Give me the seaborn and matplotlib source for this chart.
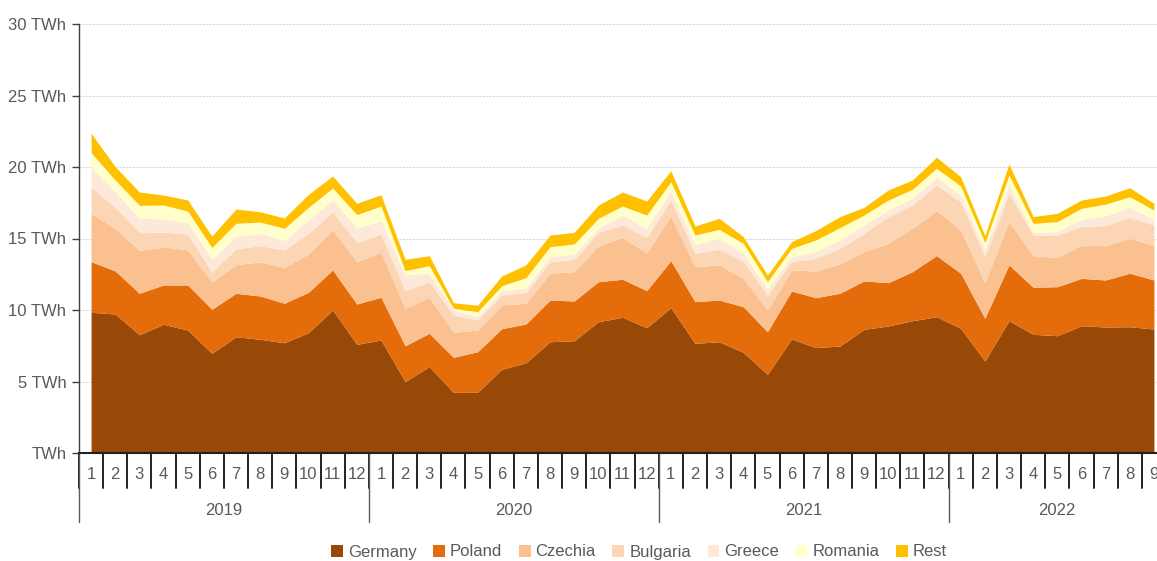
import numpy as np
import matplotlib
matplotlib.use('Agg')
import matplotlib.pyplot as plt
import matplotlib.transforms as mtransforms
from matplotlib.patches import Patch
import seaborn as sns

# monthly values, Jan 2019 - Sep 2022 (TWh)
years = ['2019', '2020', '2021', '2022']
months = [str(m) for m in range(1, 13)] * 3 + [str(m) for m in range(1, 10)]

germany = [9.84, 9.72, 8.27, 9.00, 8.60, 6.97, 8.13, 7.95, 7.71, 8.41, 10.00, 7.60,
           7.90, 4.99, 6.04, 4.24, 4.24, 5.85, 6.31, 7.78, 7.85, 9.18, 9.49, 8.76,
           10.16, 7.67, 7.78, 7.04, 5.50, 7.97, 7.37, 7.48, 8.65, 8.88, 9.25, 9.53,
           8.72, 6.43, 9.25, 8.30, 8.20, 8.90, 8.81, 8.83, 8.67]
poland = [3.54, 3.01, 2.90, 2.75, 3.15, 3.08, 3.04, 3.03, 2.76, 2.83, 2.80, 2.82,
          2.99, 2.51, 2.33, 2.45, 2.84, 2.84, 2.71, 2.92, 2.78, 2.80, 2.66, 2.59,
          3.29, 2.91, 2.92, 3.19, 2.98, 3.36, 3.49, 3.69, 3.38, 3.03, 3.43, 4.27,
          3.85, 2.99, 3.90, 3.29, 3.43, 3.31, 3.29, 3.74, 3.43]
czechia = [3.38, 2.98, 2.98, 2.66, 2.45, 1.91, 2.00, 2.38, 2.51, 2.68, 2.80, 2.94,
           3.17, 2.62, 2.52, 1.75, 1.52, 1.66, 1.45, 1.87, 2.05, 2.50, 2.91, 2.66,
           3.12, 2.45, 2.45, 1.98, 1.52, 1.47, 1.87, 2.05, 2.05, 2.75, 3.03, 3.14,
           3.03, 2.49, 3.03, 2.21, 2.03, 2.29, 2.40, 2.44, 2.40]
bulgaria = [1.82, 1.47, 1.26, 1.04, 1.11, 0.70, 1.10, 1.14, 1.22, 1.44, 1.27, 1.35,
            1.25, 1.23, 1.09, 1.21, 0.70, 0.70, 0.74, 0.81, 0.86, 0.95, 0.88, 1.07,
            1.12, 0.93, 1.09, 1.22, 1.05, 0.58, 0.88, 1.09, 1.28, 1.87, 1.63, 1.80,
            1.97, 1.82, 1.98, 1.44, 1.58, 1.33, 1.40, 1.47, 1.44]
greece = [1.37, 1.09, 1.00, 0.93, 0.79, 0.91, 0.86, 0.86, 0.65, 0.93, 0.82, 1.02,
          0.93, 1.10, 0.59, 0.35, 0.23, 0.30, 0.31, 0.35, 0.38, 0.28, 0.70, 0.63,
          0.58, 0.59, 0.77, 0.58, 0.40, 0.35, 0.47, 0.59, 0.58, 0.46, 0.47, 0.54,
          0.47, 0.47, 0.58, 0.17, 0.24, 0.51, 0.70, 0.70, 0.40]
romania = [1.05, 0.82, 0.91, 0.96, 0.82, 0.81, 0.93, 0.79, 0.86, 0.89, 0.84, 0.94,
           1.03, 0.30, 0.53, 0.12, 0.35, 0.35, 0.74, 0.70, 0.70, 0.70, 0.63, 0.93,
           0.70, 0.69, 0.63, 0.65, 0.53, 0.58, 0.82, 0.86, 0.70, 0.70, 0.63, 0.63,
           0.63, 0.51, 0.70, 0.65, 0.70, 0.77, 0.81, 0.74, 0.65]
rest = [1.36, 0.93, 0.93, 0.70, 0.77, 0.79, 1.00, 0.72, 0.72, 0.91, 0.84, 0.79,
        0.79, 0.79, 0.70, 0.39, 0.45, 0.68, 0.89, 0.81, 0.81, 0.93, 0.98, 0.98,
        0.77, 0.63, 0.77, 0.47, 0.47, 0.47, 0.65, 0.77, 0.54, 0.70, 0.65, 0.77,
        0.65, 0.49, 0.77, 0.47, 0.58, 0.58, 0.56, 0.63, 0.47]

series_names = ['Germany', 'Poland', 'Czechia', 'Bulgaria', 'Greece', 'Romania', 'Rest']
colors = ['#984807', '#e46c0a', '#fac090', '#fcd5b5', '#fde9d9', '#ffffcc', '#ffc000']

sns.set_theme(style='white')
plt.rcParams['font.family'] = ['Liberation Sans', 'DejaVu Sans']
GREY = '#595959'
FS = 12

fig = plt.figure(figsize=(11.57, 5.61), dpi=100)
ax = fig.add_axes([79 / 1157, 108 / 561, 1087 / 1157, 429 / 561])

x = np.arange(len(germany))
ax.stackplot(x, germany, poland, czechia, bulgaria, greece, romania, rest,
             colors=colors, linewidth=0, zorder=2)

ax.set_xlim(-0.5, len(germany) - 0.5)
ax.set_ylim(0, 30)
ax.set_yticks(range(0, 31, 5))
ax.set_yticklabels(['TWh'] + [f'{v} TWh' for v in range(5, 31, 5)],
                   color=GREY, fontsize=FS)
ax.set_axisbelow(True)
ax.yaxis.grid(True, color='#d9d9d9', linestyle=(0, (2, 1)), linewidth=0.8)
ax.tick_params(axis='y', left=True, length=5, width=1, color='#404040', pad=4)
ax.set_xticks([])
for s in ['top', 'right']:
    ax.spines[s].set_visible(False)
ax.spines['left'].set_color('#404040')
ax.spines['bottom'].set_color('#202020')
ax.spines['left'].set_linewidth(1)
ax.spines['bottom'].set_linewidth(1.5)
ax.spines['bottom'].set_zorder(3)

# two-level category axis
trans = mtransforms.blended_transform_factory(ax.transData, ax.transAxes)
for i in range(len(germany) + 1):
    ax.plot([i - 0.5, i - 0.5], [0, -0.082], transform=trans, color='#202020',
            linewidth=1.4, clip_on=False)
for i, lab in enumerate(months):
    ax.text(i, -0.05, lab, transform=trans, ha='center', va='center',
            color=GREY, fontsize=FS)
for k, yr in enumerate(years):
    start = 12 * k
    end = min(12 * (k + 1), len(germany))
    ax.plot([start - 0.5, start - 0.5], [0, -0.161], transform=trans, color=GREY,
            linewidth=1, clip_on=False)
    ax.text((start + end - 1) / 2, -0.133, yr, transform=trans, ha='center',
            va='center', color=GREY, fontsize=FS)

handles = [Patch(facecolor=c, edgecolor='none', label=n) for n, c in zip(series_names, colors)]
fig.legend(handles=handles, loc='center', bbox_to_anchor=(639 / 1157, 9 / 561), ncol=7,
           frameon=False, fontsize=FS, handlelength=0.7, handleheight=0.7,
           handletextpad=0.3, columnspacing=1.0, labelcolor=GREY)

plt.savefig('out.png', dpi=100)
